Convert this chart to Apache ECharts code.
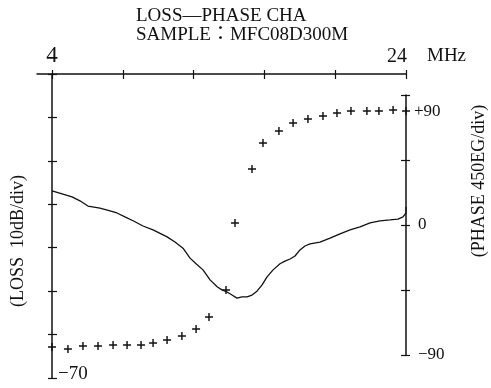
<!DOCTYPE html>
<html>
<head>
<meta charset="utf-8">
<style>html,body{margin:0;padding:0;background:#fff;}#c{width:491px;height:388px;}</style>
<script src="https://cdn.jsdelivr.net/npm/echarts@6/dist/echarts.min.js"></script>
</head>
<body>
<div id="c"></div>
<script>
const titleLines = ['LOSS—PHASE CHA', 'SAMPLE：MFC08D300M'];
const freqTicks = [4, 8, 12, 16, 20, 24];
const freqLabels = [4, 24];
const lossTicks = [-70, -60, -50, -40, -30, -20, -10, 0];
const phaseLabels = [90, 0, -90];

const freqLoss = [4.00, 4.57, 5.13, 5.58, 6.03, 6.71, 7.28, 7.67, 8.12, 8.58, 9.14, 9.71, 10.50, 10.95, 11.40, 11.80, 12.14, 12.53, 12.93, 13.33, 13.60, 13.89, 14.17, 14.45, 14.73, 15.02, 15.30, 15.58, 15.86, 16.15, 16.49, 16.88, 17.16, 17.45, 17.73, 18.01, 18.29, 18.58, 19.14, 19.71, 20.27, 20.84, 21.40, 21.97, 22.53, 23.10, 23.55, 23.83, 24.00, 24.00];
const lossDb = [-26.9, -27.6, -28.3, -29.2, -30.4, -30.9, -31.5, -32.0, -32.9, -33.8, -35.0, -35.9, -37.5, -38.7, -40.1, -42.4, -43.7, -45.1, -47.4, -49.0, -49.7, -50.2, -50.9, -51.6, -51.3, -51.3, -50.9, -50.0, -48.6, -46.7, -45.1, -43.7, -43.1, -42.6, -41.9, -40.5, -39.6, -39.1, -38.7, -37.8, -36.8, -35.9, -35.2, -34.3, -33.8, -33.6, -33.4, -32.9, -32.0, -30.6];

const freqPhase = [4.00, 4.90, 5.75, 6.60, 7.45, 8.24, 9.03, 9.71, 10.50, 11.34, 12.14, 12.87, 13.83, 14.34, 15.30, 15.92, 16.82, 17.62, 18.46, 19.31, 20.10, 20.89, 21.79, 22.47, 23.27, 24.00];
const phaseDeg = [-84.5, -85.9, -83.8, -83.8, -83.1, -83.1, -83.1, -81.7, -79.6, -76.9, -72.0, -63.7, -45.0, 1.4, 38.8, 56.8, 65.1, 70.6, 73.4, 75.5, 77.6, 78.9, 78.9, 78.9, 79.6, 78.9];

const FONT = "'Liberation Serif', 'DejaVu Serif', 'Noto Sans CJK JP', serif";
const INK = '#111';
const lineStyle = { color: INK, width: 1.5 };

const chart = echarts.init(document.getElementById('c'), null, { renderer: 'canvas' });

const gridBase = { left: 52, right: 85, outerBoundsMode: 'none', containLabel: false };

chart.setOption({
  backgroundColor: '#fff',
  animation: false,
  title: {
    text: titleLines.join('\n'),
    left: 131, top: 2,
    textStyle: { fontFamily: FONT, fontSize: 19, fontWeight: 'normal', color: INK, lineHeight: 19 }
  },
  grid: [
    Object.assign({}, gridBase, { left: 37, top: 74, bottom: 10 }),
    Object.assign({}, gridBase, { top: 74, bottom: 10 }),
    Object.assign({}, gridBase, { top: 95, bottom: 33 })
  ],
  xAxis: [
    {
      gridIndex: 0, type: 'value', position: 'top', min: 3.15, max: 24,
      axisLine: { show: true, onZero: false, lineStyle },
      axisTick: { show: true, inside: true, length: 5, customValues: freqTicks, lineStyle: { color: INK, width: 1.2 } },
      splitLine: { show: false },
      axisLabel: {
        show: true, customValues: freqLabels, margin: 7, color: INK, fontFamily: FONT, fontSize: 20,
        formatter: v => v === 4 ? '{big|4}' : '{n|24}',
        rich: {
          big: { fontSize: 23, fontFamily: FONT, color: INK },
          n: { fontSize: 20, fontFamily: FONT, color: INK, padding: [0, 18, 0, 0] }
        }
      },
      name: 'MHz', nameLocation: 'end', nameGap: 21,
      nameTextStyle: { fontFamily: FONT, fontSize: 19, color: INK, verticalAlign: 'bottom', padding: [0, 0, 8, 0] }
    },
    {
      gridIndex: 0, type: 'value', position: 'top', min: 3.15, max: 24,
      axisLine: { show: false, onZero: false },
      axisTick: { show: true, inside: false, length: 4, customValues: freqTicks, lineStyle: { color: INK, width: 1.2 } },
      axisLabel: { show: false }, splitLine: { show: false }
    },
    { gridIndex: 1, type: 'value', min: 4, max: 24, show: false },
    { gridIndex: 2, type: 'value', min: 4, max: 24, show: false }
  ],
  yAxis: [
    { gridIndex: 0, type: 'value', min: 0, max: 1, show: false },
    {
      gridIndex: 1, type: 'value', position: 'left', min: -70, max: 0, interval: 10,
      axisLine: { show: true, onZero: false, lineStyle },
      axisTick: { show: true, inside: true, length: 5, lineStyle: { color: INK, width: 1.2 } },
      splitLine: { show: false },
      axisLabel: {
        show: true, inside: true, customValues: [-70], margin: 6,
        formatter: v => '{m|−' + Math.abs(v) + '}',
        rich: { m: { fontFamily: FONT, fontSize: 19, color: INK, padding: [0, 0, 8, 0] } }
      }
    },
    {
      gridIndex: 1, type: 'value', position: 'left', min: -70, max: 0, interval: 10,
      axisLine: { show: false, onZero: false },
      axisTick: { show: true, inside: false, length: 4, lineStyle: { color: INK, width: 1.2 } },
      splitLine: { show: false },
      axisLabel: { show: false },
      name: '(LOSS  10dB/div)', nameLocation: 'middle', nameGap: 25,
      nameTextStyle: { fontFamily: FONT, fontSize: 18, color: INK, padding: [0, 30, 0, 0] }
    },
    {
      gridIndex: 2, type: 'value', position: 'right', min: -90, max: 90, interval: 45,
      axisLine: { show: true, onZero: false, lineStyle },
      axisTick: { show: true, inside: true, length: 5, lineStyle: { color: INK, width: 1.2 } },
      splitLine: { show: false },
      axisLabel: {
        show: true, customValues: phaseLabels, margin: 8, color: INK, fontFamily: FONT, fontSize: 17,
        formatter: v => v === 90 ? '{p|+90}' : (v < 0 ? '{q|−' + Math.abs(v) + '}' : '{q|' + v + '}'),
        rich: {
          p: { fontFamily: FONT, fontSize: 17, color: INK, padding: [34, 0, 0, 0] },
          q: { fontFamily: FONT, fontSize: 17, color: INK, padding: [0, 0, 0, 4] }
        }
      }
    },
    {
      gridIndex: 2, type: 'value', position: 'right', min: -90, max: 90, interval: 45,
      axisLine: { show: false, onZero: false },
      axisTick: { show: true, inside: false, length: 4, lineStyle: { color: INK, width: 1.2 } },
      splitLine: { show: false },
      axisLabel: { show: false },
      name: '(PHASE 450EG/div)', nameLocation: 'middle', nameGap: 64, nameRotate: 90,
      nameTextStyle: { fontFamily: FONT, fontSize: 18, color: INK, padding: [0, 0, 0, 88] }
    }
  ],
  series: [
    {
      type: 'line', name: 'LOSS', xAxisIndex: 2, yAxisIndex: 1,
      data: freqLoss.map((f, i) => [f, lossDb[i]]),
      showSymbol: false, symbol: 'none', smooth: false,
      lineStyle: { color: INK, width: 1.3 }, clip: false
    },
    {
      type: 'scatter', name: 'PHASE', xAxisIndex: 3, yAxisIndex: 3,
      data: freqPhase.map((f, i) => [f, phaseDeg[i]]),
      symbol: 'path://M0,4.1H10V5.9H0Z M4.1,0H5.9V10H4.1Z', symbolSize: 8,
      itemStyle: { color: INK, opacity: 1 }, clip: false
    }
  ]
});
</script>
</body>
</html>
